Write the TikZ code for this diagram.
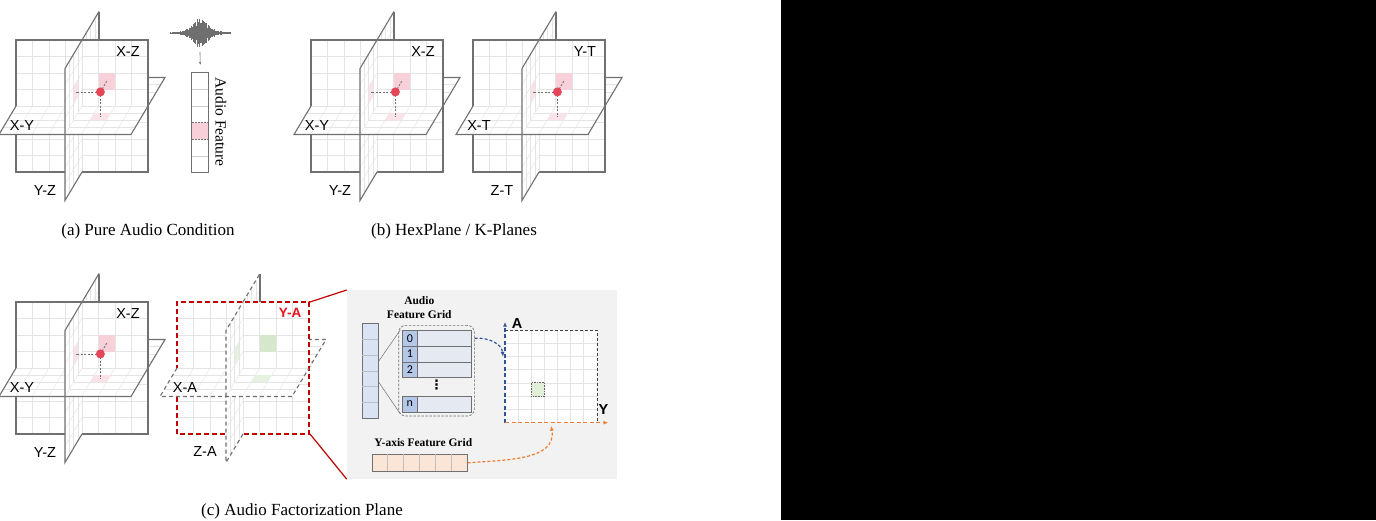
\documentclass[tikz,border=0pt]{standalone}
\usepackage{fontspec}
\setmainfont{Liberation Serif}
\newfontfamily\arialfont{Liberation Sans}
\newfontfamily\calibfont{Carlito}
\newfontfamily\symfont{DejaVu Sans}
\usetikzlibrary{positioning}
\usetikzlibrary{calc}
\usetikzlibrary{arrows.meta}

\definecolor{planegray}{HTML}{707070}
\definecolor{gridgray}{HTML}{E4E4E4}
\definecolor{cellpink}{HTML}{F7D0D9}
\definecolor{cellgreen}{HTML}{D5E8CC}
\definecolor{dotred}{HTML}{E2475A}
\definecolor{framered}{HTML}{C00000}
\definecolor{labelred}{HTML}{E8101E}
\definecolor{panelgray}{HTML}{F2F2F2}
\definecolor{colblue}{HTML}{DAE3F3}
\definecolor{idxblue}{HTML}{B4C7E7}
\definecolor{rowblue}{HTML}{E4E9F2}
\definecolor{ygorange}{HTML}{FBE5D6}
\definecolor{greenfill}{HTML}{E2F0D9}
\definecolor{arrowblue}{HTML}{2F5597}
\definecolor{arroworange}{HTML}{ED7D31}
\definecolor{wavegray}{HTML}{6F6F6F}

\tikzset{
  gridline/.style={draw=gridgray, line width=0.4pt},
  solidedge/.style={draw=planegray, line width=1.1pt},
  dashedge/.style={draw=planegray, line width=1.1pt, dash pattern=on 4pt off 3pt},
  solidsq/.style={draw=planegray, line width=1.8pt},
  redsq/.style={draw=framered, line width=1.8pt, dash pattern=on 5pt off 3pt},
  projline/.style={draw=planegray, line width=0.8pt, dash pattern=on 2pt off 1.5pt},
  planelabel/.style={font=\arialfont\fontsize{14.5}{16}\selectfont, inner sep=0pt},
  caption/.style={font=\fontsize{17}{20}\selectfont, inner sep=0pt},
  gridtitle/.style={font=\bfseries\fontsize{11.5}{13.3}\selectfont, inner sep=0pt},
  colcell/.style={fill=colblue, draw=planegray, line width=0.7pt, inner sep=0pt},
  rowcell/.style={fill=rowblue, draw=planegray, line width=0.7pt, inner sep=0pt,
    minimum width=69, minimum height=15.8},
  idxcell/.style={fill=idxblue, draw=planegray, line width=0.7pt, inner sep=0pt,
    minimum width=15.6, minimum height=15.8, font=\calibfont\fontsize{12}{12}\selectfont},
  dashbox/.style={draw=planegray, line width=0.7pt, dash pattern=on 2.5pt off 1.5pt,
    rounded corners=7pt, inner sep=0pt},
  axislabel/.style={font=\arialfont\bfseries\fontsize{14.5}{16}\selectfont, inner sep=0pt},
  zoomline/.style={draw=framered, line width=1.2pt},
  thinline/.style={draw=planegray, line width=0.5pt},
  curveblue/.style={draw=arrowblue, line width=1.2pt, dash pattern=on 3pt off 2pt,
    -{Latex[length=5pt,width=4pt]}},
  curveorange/.style={draw=arroworange, line width=1.2pt, dash pattern=on 3pt off 2pt,
    -{Latex[length=5pt,width=4pt]}},
}

% one patch of the Y-Z plane (t from #1 to #2, z from #3 to #4)
\newcommand{\yzcells}[4]{%
  \begin{scope}
    \clip (0,#1,#3) -- (0,#2,#3) -- (0,#2,#4) -- (0,#1,#4) -- cycle;
    \fill[white] (0,#1,#3) -- (0,#2,#3) -- (0,#2,#4) -- (0,#1,#4) -- cycle;
    \foreach \k in {-3,...,3} \draw[gridline] (0,-.5,16.5*\k) -- (0,.5,16.5*\k);
    \foreach \k in {-3,...,3} \draw[gridline] (0,\k/8,-66) -- (0,\k/8,66);
  \end{scope}}

% one half of the X-Y plane (t from #1 to #2)
\newcommand{\xycells}[2]{%
  \begin{scope}
    \clip (-66,#1,0) -- (-66,#2,0) -- (66,#2,0) -- (66,#1,0) -- cycle;
    \fill[white] (-66,#1,0) -- (-66,#2,0) -- (66,#2,0) -- (66,#1,0) -- cycle;
    \foreach \k in {-3,...,3} \draw[gridline] (16.5*\k,-.5,0) -- (16.5*\k,.5,0);
    \foreach \k in {-3,...,3} \draw[gridline] (-66,\k/8,0) -- (66,\k/8,0);
  \end{scope}}

% three crossing planes: #1 centre, #2 cell colour, #3 square style,
% #4 edge style, #5 style of the back edge of the Y-Z plane
\newcommand{\triplanes}[5]{%
  \begin{scope}[shift={(#1)}, x={(1pt,0pt)}, y={(34pt,57pt)}, z={(0pt,1pt)}]
    % back halves
    \yzcells{0}{.5}{-66}{66}
    \draw[#4] (0,0,66) -- (0,.5,66);
    \draw[#5] (0,.5,66) -- (0,.5,-66);
    \draw[#4] (0,.5,-66) -- (0,0,-66);
    \xycells{0}{.5}
    \draw[#4] (-66,0,0) -- (-66,.5,0) -- (66,.5,0) -- (66,0,0);
    % middle square
    \fill[white] (-66,0,-66) rectangle (66,0,66);
    \foreach \k in {-3,...,3} {
      \draw[gridline] (16.5*\k,0,-66) -- (16.5*\k,0,66);
      \draw[gridline] (-66,0,16.5*\k) -- (66,0,16.5*\k);
    }
    \fill[#2] (16.5,0,16.5) rectangle (33,0,33);
    \draw[#3] (-66,0,-66) rectangle (66,0,66);
    % front halves
    \yzcells{-.5}{0}{-66}{0}
    \draw[#4] (0,0,-66) -- (0,-.5,-66) -- (0,-.5,0);
    \xycells{-.5}{0}
    \fill[#2!60] (16.5,-.25,0) -- (33,-.25,0) -- (33,-.125,0) -- (16.5,-.125,0) -- cycle;
    \draw[#4] (-66,0,0) -- (-66,-.5,0) -- (66,-.5,0) -- (66,0,0);
    \yzcells{-.5}{0}{0}{66}
    \fill[#2!60] (0,-.25,16.5) -- (0,-.125,16.5) -- (0,-.125,33) -- (0,-.25,33) -- cycle;
    \draw[#4] (0,-.5,0) -- (0,-.5,66) -- (0,0,66);
  \end{scope}}

% sample point with its projections
\newcommand{\probe}[1]{%
  \begin{scope}[shift={(#1)}, x={(1pt,0pt)}, y={(34pt,57pt)}, z={(0pt,1pt)}]
    \draw[projline] (24.75,-.1875,24.75) -- (0,-.1875,24.75);
    \draw[projline] (24.75,-.1875,24.75) -- (24.75,-.1875,0);
    \draw[projline] (24.75,-.1875,24.75) -- (24.75,0,24.75);
    \fill[dotred] (24.75,-.1875,24.75) circle[radius=4.5pt];
  \end{scope}}

\begin{document}
\begin{tikzpicture}[x=1pt,y=-1pt]
  \useasboundingbox (0,0) rectangle (1376,520);
  \fill[white] (0,0) rectangle (781,520);
  \fill[black] (781,0) rectangle (1376,520);

  % centres of the plane groups
  \coordinate (ga) at (82,106);
  \coordinate (gb1) at (377,106);
  \coordinate (gb2) at (539,106);
  \coordinate (gc1) at (82,368);
  \coordinate (gc2) at (243,368);

  % Planes
  \triplanes{ga}{cellpink}{solidsq}{solidedge}{solidedge}
  \probe{ga}
  \triplanes{gb1}{cellpink}{solidsq}{solidedge}{solidedge}
  \probe{gb1}
  \triplanes{gb2}{cellpink}{solidsq}{solidedge}{solidedge}
  \probe{gb2}
  \triplanes{gc1}{cellpink}{solidsq}{solidedge}{solidedge}
  \probe{gc1}
  \triplanes{gc2}{cellgreen}{redsq}{dashedge}{solidedge}

  % Plane labels
  \foreach \g/\lxz/\lxy/\lyz in {ga/X-Z/X-Y/Y-Z, gb1/X-Z/X-Y/Y-Z, gb2/Y-T/X-T/Z-T, gc1/X-Z/X-Y/Y-Z} {
    \node[planelabel] (\g-xz) at ($(\g)+(46,-54)$) {\lxz};
    \node[planelabel] (\g-xy) at ($(\g)+(-60,20)$) {\lxy};
    \node[planelabel] (\g-yz) at ($(\g)+(-37,85)$) {\lyz};
  }
  \node[planelabel, font=\arialfont\bfseries\fontsize{13.5}{16}\selectfont, text=labelred]
    (gc2-xz) at ($(gc2)+(47,-55)$) {Y-A};
  \node[planelabel] (gc2-xy) at ($(gc2)+(-58,20)$) {X-A};
  \node[planelabel] (gc2-yz) at ($(gc2)+(-38,84)$) {Z-A};

  % Audio waveform and feature column
  \coordinate (wave) at (200,33);
  \pgfmathsetseed{5}
  \foreach \i in {-60,...,60} {
    \pgfmathsetmacro\hh{(1.2+13*exp(-1*(\i/22)*(\i/22)))*(0.35+0.65*rnd)}
    \draw[wavegray, line width=0.6pt] ($(wave)+(\i*0.5,-\hh)$) -- ($(wave)+(\i*0.5,\hh)$);
  }
  \node[fill=white, inner sep=0pt, minimum width=16.6, minimum height=99.6, anchor=north west]
    (acol) at (191.7,72.7) {};
  \fill[cellpink] ($(acol.north west)+(0,49.8)$) rectangle ++(16.6,16.6);
  \foreach \k in {1,2,5} \draw[gridline, draw=gray!40] ($(acol.north west)+(0,16.6*\k)$) -- ++(16.6,0);
  \foreach \k in {3,4} \draw[planegray, line width=0.5pt, densely dotted] ($(acol.north west)+(0,16.6*\k)$) -- ++(16.6,0);
  \draw[planegray, line width=1pt] (acol.north west) rectangle (acol.south east);
  \draw[planegray, line width=0.6pt, -{Stealth[length=3pt,width=2.5pt]}] ($(wave)+(0,19)$) -- ($(acol.north)+(0,-8)$);
  \node[rotate=-90, inner sep=0pt, font=\fontsize{15.5}{18}\selectfont] (afeat) at (221,122) {Audio Feature};

  % Captions
  \node[caption, anchor=base] (capa) at (148,235) {(a) Pure Audio Condition};
  \node[caption, anchor=base] (capb) at (454,235) {(b) HexPlane / K-Planes};
  \node[caption, anchor=base] (capc) at (302,515) {(c) Audio Factorization Plane};

  % Zoomed panel
  \node[fill=panelgray, inner sep=0pt, minimum width=270, minimum height=188.7, anchor=north west]
    (panel) at (346.7,290) {};
  \coordinate (yatr) at ($(gc2)+(67,-66)$);
  \coordinate (yabr) at ($(gc2)+(67,66)$);
  \draw[zoomline] (yatr) -- (panel.north west);
  \draw[zoomline] (yabr) -- (panel.south west);

  % Audio feature grid
  \node[gridtitle, align=center] (aftitle) at (419.3,307.5) {Audio\\Feature Grid};
  \node[colcell, anchor=north west, minimum width=16, minimum height=95] (bcol) at (361.7,323.3) {};
  \foreach \k in {1,...,5} \draw[thinline, draw=gray!50] ($(bcol.north west)+(0,15.83*\k)$) -- ++(16,0);
  \node[dashbox, anchor=north west, minimum width=75.7, minimum height=90.7] (fbox) at (398.3,325) {};
  \foreach \i/\yy in {0/330, 1/345.8, 2/361.6, n/395.7} {
    \node[rowcell, anchor=north west] (row\i) at (401.7,\yy) {};
    \node[idxcell, anchor=west] (idx\i) at (row\i.west) {\i};
  }
  \node[inner sep=0pt, font=\symfont\bfseries\fontsize{13}{13}\selectfont] (vdots) at (436.7,385) {⋮};
  \draw[thinline] ($(bcol.north east)!0.40!(bcol.south east)$) -- ($(fbox.north west)+(2,5)$);
  \draw[thinline] ($(bcol.north east)!0.61!(bcol.south east)$) -- ($(fbox.south west)+(2,-2.5)$);

  % Y-A target plane
  \node[fill=white, inner sep=0pt, minimum width=91.7, minimum height=92.3, anchor=north west]
    (tgt) at (505,330) {};
  \foreach \k in {1,...,6} {
    \draw[gridline] ($(tgt.north west)+(13.1*\k,0)$) -- ($(tgt.south west)+(13.1*\k,0)$);
    \draw[gridline] ($(tgt.north west)+(0,13.19*\k)$) -- ($(tgt.north east)+(0,13.19*\k)$);
  }
  \draw[draw=black!75, line width=1pt, dash pattern=on 3pt off 2pt] (tgt.north west) -- (tgt.north east) -- (tgt.south east);
  \node[fill=greenfill, draw=black!60, line width=0.6pt, densely dotted, inner sep=0pt,
    minimum size=13.3, anchor=north west] (gcell) at (531,382.3) {};
  \coordinate (atip) at ($(tgt.north west)+(0,-8)$);
  \coordinate (ytip) at ($(tgt.south east)+(11,0)$);
  \draw[arrowblue, line width=1.4pt, dash pattern=on 4pt off 2.5pt, -{Latex[length=4.5pt,width=4pt]}]
    (tgt.south west) -- (atip);
  \draw[arroworange, line width=1.4pt, dash pattern=on 4pt off 2.5pt, -{Latex[length=4.5pt,width=4pt]}]
    (tgt.south west) -- (ytip);
  \node[axislabel] (alab) at (517,324) {A};
  \node[axislabel] (ylab) at (603.5,410) {Y};
  \coordinate (bin) at ($(tgt.north west)!0.29!(tgt.south west)+(-2,0)$);
  \draw[curveblue] (fbox.east |- row0) to[out=5,in=95] (bin);

  % Y-axis feature grid
  \node[gridtitle] (ygtitle) at (423.3,442.7) {Y-axis Feature Grid};
  \node[fill=ygorange, draw=planegray, line width=0.8pt, inner sep=0pt, minimum width=95,
    minimum height=16.4, anchor=north west] (yg) at (371.7,454.3) {};
  \foreach \k in {1,...,5} \draw[thinline, draw=gray!50] ($(yg.north west)+(15.83*\k,0)$) -- ++(0,16.4);
  \draw[curveorange] (yg.east) to[out=5,in=-80] ($(tgt.south)+(0,3)$);
\end{tikzpicture}
\end{document}
